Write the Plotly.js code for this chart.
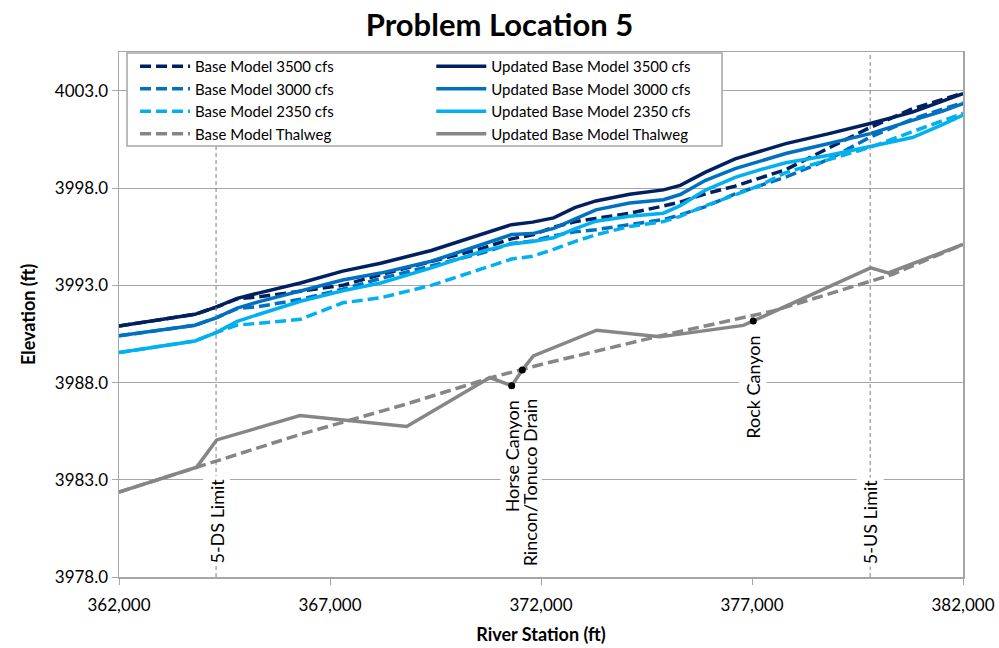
<!DOCTYPE html>
<html>
<head>
<meta charset="utf-8">
<script src="https://cdn.plot.ly/plotly-3.0.1.min.js"></script>
<style>html,body{margin:0;padding:0;background:#fff;}#chart{width:999px;height:648px;}</style>
</head>
<body>
<div id="chart"></div>
<script>
// Water surface profile stations (ft)
const stations = [362000, 363800, 364300, 364800, 365300, 366300, 367300, 368200, 369400, 370600, 371300, 371800, 372300, 372800, 373300, 374100, 374900, 375300, 375900, 376600, 377200, 377800, 378800, 379800, 380800, 381500, 382000];

const base3500 = [3990.91, 3991.51, 3991.88, 3992.30, 3992.40, 3992.70, 3993.00, 3993.55, 3994.21, 3994.90, 3995.39, 3995.60, 3995.99, 3996.27, 3996.44, 3996.71, 3997.08, 3997.28, 3997.71, 3998.10, 3998.53, 3998.95, 4000.04, 4001.12, 4002.08, 4002.52, 4002.88];
const updated3500 = [3990.91, 3991.51, 3991.88, 3992.33, 3992.60, 3993.12, 3993.73, 3994.14, 3994.79, 3995.61, 3996.12, 3996.25, 3996.47, 3997.00, 3997.34, 3997.68, 3997.91, 3998.14, 3998.82, 3999.50, 3999.90, 4000.29, 4000.79, 4001.32, 4001.91, 4002.45, 4002.86];
const base3000 = [3990.40, 3990.95, 3991.33, 3991.80, 3991.90, 3992.28, 3992.80, 3993.35, 3994.00, 3994.66, 3995.15, 3995.28, 3995.55, 3995.75, 3995.86, 3996.12, 3996.38, 3996.62, 3997.05, 3997.70, 3998.15, 3998.57, 3999.46, 4000.62, 4001.55, 4002.05, 4002.40];
const updated3000 = [3990.40, 3990.95, 3991.33, 3991.83, 3992.15, 3992.69, 3993.27, 3993.63, 3994.24, 3995.10, 3995.61, 3995.66, 3995.93, 3996.40, 3996.88, 3997.23, 3997.40, 3997.67, 3998.40, 3999.00, 3999.40, 3999.78, 4000.28, 4000.80, 4001.48, 4001.95, 4002.35];
const base2350 = [3989.54, 3990.14, 3990.57, 3990.95, 3991.05, 3991.25, 3992.10, 3992.36, 3993.00, 3993.85, 3994.35, 3994.50, 3994.85, 3995.25, 3995.60, 3996.03, 3996.28, 3996.55, 3997.10, 3997.65, 3998.15, 3998.80, 3999.45, 4000.10, 4000.90, 4001.45, 4001.85];
const updated2350 = [3989.54, 3990.14, 3990.57, 3991.15, 3991.50, 3992.18, 3992.72, 3993.12, 3993.90, 3994.75, 3995.13, 3995.25, 3995.45, 3995.90, 3996.30, 3996.55, 3996.71, 3997.10, 3997.90, 3998.55, 3998.95, 3999.30, 3999.68, 4000.12, 4000.60, 4001.25, 4001.76];

// Thalweg profiles
const updatedThalwegStations = [362000, 363841, 364315, 366289, 368817, 370791, 371305, 371557, 371818, 373320, 374820, 376794, 377030, 379812, 380229, 382000];
const updatedThalweg = [3982.37, 3983.65, 3985.05, 3986.30, 3985.74, 3988.26, 3987.84, 3988.64, 3989.37, 3990.69, 3990.35, 3990.94, 3991.17, 3993.90, 3993.64, 3995.10];
const baseThalwegStations = [362000, 363841, 366289, 368817, 370830, 372095, 374820, 377500, 380330, 382000];
const baseThalweg = [3982.37, 3983.65, 3985.33, 3986.90, 3988.26, 3988.98, 3990.40, 3991.68, 3993.56, 3995.10];

// Features and limits
const featureStations = [371305, 371557, 377030];
const featureElev = [3987.84, 3988.64, 3991.17];
const featureLabels = ['Horse Canyon', 'Rincon/Tonuco Drain', 'Rock Canyon'];
const limitStations = [364300, 379800];
const limitLabels = ['5-DS Limit', '5-US Limit'];

const xTicks = [362000, 367000, 372000, 377000, 382000];

const NAVY = '#002060', MID = '#0070C0', LIGHT = '#00B0F0', GREY = '#868686';
const DASH = '11px,5px';
const LW = 3.5;
const FONT = 'Lato, "Open Sans", sans-serif';

function tr(x, y, name, color, dash, legend, group) {
  return {x: x, y: y, name: name, type: 'scatter', mode: 'lines',
    line: {color: color, width: LW, dash: dash}, legend: legend, legendgroup: group, hoverinfo: 'skip'};
}

const data = [
  tr(stations, base3500, 'Base Model 3500 cfs', NAVY, DASH, 'legend', 'a'),
  tr(stations, base3000, 'Base Model 3000 cfs', MID, DASH, 'legend', 'b'),
  tr(stations, base2350, 'Base Model 2350 cfs', LIGHT, DASH, 'legend', 'c'),
  tr(baseThalwegStations, baseThalweg, 'Base Model Thalweg', GREY, DASH, 'legend', 'd'),
  tr(stations, updated3500, 'Updated Base Model 3500 cfs', NAVY, 'solid', 'legend2', 'e'),
  tr(stations, updated3000, 'Updated Base Model 3000 cfs', MID, 'solid', 'legend2', 'f'),
  tr(stations, updated2350, 'Updated Base Model 2350 cfs', LIGHT, 'solid', 'legend2', 'g'),
  tr(updatedThalwegStations, updatedThalweg, 'Updated Base Model Thalweg', GREY, 'solid', 'legend2', 'h'),
  {x: featureStations, y: featureElev, type: 'scatter', mode: 'markers', showlegend: false,
    marker: {color: '#000', size: 7}, hoverinfo: 'skip'}
];

const shapes = limitStations.map(s => ({type: 'line', xref: 'x', yref: 'paper', x0: s, x1: s, y0: 0, y1: 1,
  line: {color: '#7F7F7F', width: 1, dash: '4px,3px'}, layer: 'above'}));
shapes.push({type: 'rect', xref: 'paper', yref: 'paper', x0: 0.0095, x1: 0.7145, y0: 0.821, y1: 0.998,
  fillcolor: '#fff', line: {color: '#A6A6A6', width: 1.5}, layer: 'above'});

const annFont = {family: FONT, size: 18, color: '#000'};
const annotations = limitStations.map((s, i) => ({x: s, y: 0, xref: 'x', yref: 'paper', text: limitLabels[i],
  textangle: -90, showarrow: false, xanchor: 'center', yanchor: 'bottom', yshift: 10,
  bgcolor: '#fff', borderpad: 2, font: annFont}));
annotations.push({x: featureStations[1], y: 0, xref: 'x', yref: 'paper', text: featureLabels[1],
  textangle: -90, showarrow: false, xanchor: 'center', yanchor: 'bottom', yshift: 10, xshift: 8,
  bgcolor: '#fff', borderpad: 0, font: annFont});
annotations.push({x: featureStations[0], y: featureElev[0], xref: 'x', yref: 'y', text: featureLabels[0],
  textangle: -90, showarrow: false, xanchor: 'center', yanchor: 'top', yshift: -14, xshift: 0,
  bgcolor: '#fff', borderpad: 0, font: annFont});
annotations.push({x: featureStations[2], y: featureElev[2], xref: 'x', yref: 'y', text: featureLabels[2],
  textangle: -90, showarrow: false, xanchor: 'center', yanchor: 'top', yshift: -12,
  bgcolor: '#fff', borderpad: 2, font: annFont});

const legendBase = {yanchor: 'top', xanchor: 'left', y: 1.004, bgcolor: 'rgba(0,0,0,0)', borderwidth: 0,
  font: {family: FONT, size: 15, color: '#000'}, itemwidth: 50, tracegroupgap: 0,
  orientation: 'v', traceorder: 'normal'};

const layout = {
  width: 999, height: 648,
  margin: {l: 119, r: 36, t: 52, b: 71},
  paper_bgcolor: '#fff', plot_bgcolor: '#fff',
  font: {family: FONT, color: '#000'},
  title: {text: '<b>Problem Location 5</b>', font: {size: 31, family: FONT, color: '#000'},
    x: 0.5, xref: 'container', xanchor: 'center', y: 0.961, yref: 'container', yanchor: 'middle'},
  xaxis: {range: [362000, 382000], tickvals: xTicks, tickformat: ',d', showgrid: false, zeroline: false,
    showline: true, linecolor: '#A6A6A6', linewidth: 1.5, mirror: true, ticks: 'outside', ticklen: 6,
    tickcolor: '#A6A6A6', tickfont: {size: 17}, ticklabelstandoff: 6, automargin: false,
    title: {text: '<b>River Station (ft)</b>', font: {size: 18}, standoff: 14}},
  yaxis: {range: [3978, 4005], tick0: 3978, dtick: 5, tickformat: '.1f', showgrid: true, gridcolor: '#A6A6A6',
    gridwidth: 1, zeroline: false, showline: true, linecolor: '#A6A6A6', linewidth: 1.5, mirror: true,
    ticks: 'outside', ticklen: 6, tickcolor: '#A6A6A6', tickfont: {size: 17}, automargin: false,
    title: {text: '<b>Elevation (ft)</b>', font: {size: 18}, standoff: 14}},
  legend: Object.assign({}, legendBase, {x: 0.019}),
  legend2: Object.assign({}, legendBase, {x: 0.370}),
  shapes: shapes,
  annotations: annotations,
  showlegend: true
};

Plotly.newPlot('chart', data, layout, {displayModeBar: false, staticPlot: true});
</script>
</body>
</html>
